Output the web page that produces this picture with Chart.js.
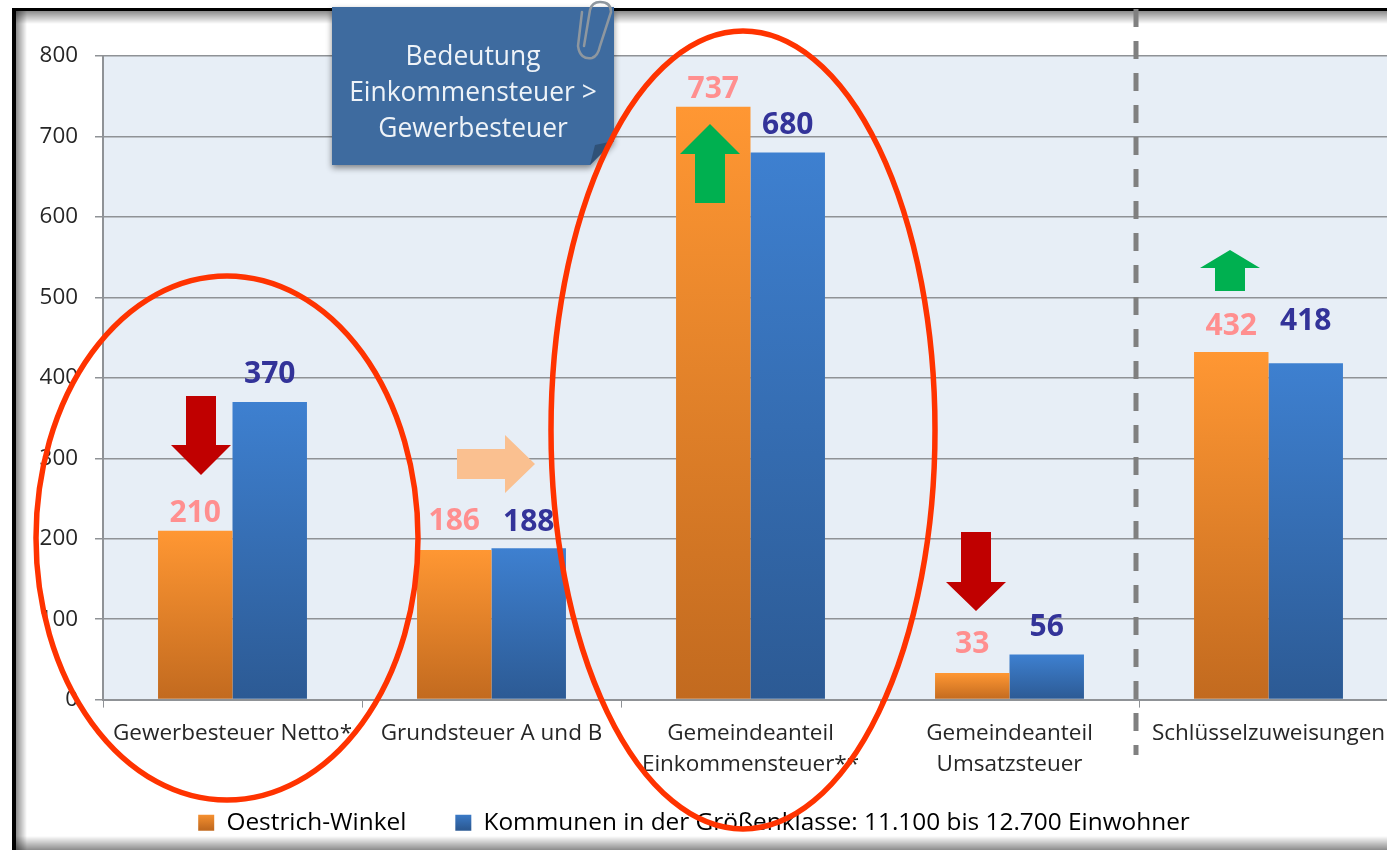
<!DOCTYPE html>
<html lang="de">
<head>
<meta charset="utf-8">
<title>Steuereinnahmen je Einwohner</title>
<script src="https://cdn.jsdelivr.net/npm/chart.js@4/dist/chart.umd.min.js"></script>
<style>
  html, body { margin: 0; padding: 0; background: #fff; overflow: hidden; }
  #wrap { width: 1387px; height: 850px; overflow: hidden; }
  canvas { display: block; }
</style>
</head>
<body>
<div id="wrap"><canvas id="tax-chart" width="1398" height="850"></canvas></div>
<script>
(function () {
  const categories = [
    "Gewerbesteuer Netto*",
    "Grundsteuer A und B",
    ["Gemeindeanteil", "Einkommensteuer**"],
    ["Gemeindeanteil", "Umsatzsteuer"],
    "Schlüsselzuweisungen",
  ];
  const oestrichWinkel = [210, 186, 737, 33, 432];
  const kommunen = [370, 188, 680, 56, 418];
  const seriesNames = [
    "Oestrich-Winkel",
    "Kommunen in der Größenklasse: 11.100 bis 12.700 Einwohner",
  ];
  const noteLines = ["Bedeutung", "Einkommensteuer >", "Gewerbesteuer"];

  const fontFamily = "'Open Sans', sans-serif";
  const textColor = "#262626";
  const gridColor = "#8f9296";
  const orange = ["#ff9733", "#c26a1f"];
  const blue = ["#3e80d0", "#2c5a94"];
  const labelColors = ["#ff8f8f", "#333399"];
  // how far each value label sits above its bar, labels were placed by hand around the arrows
  const labelLift = [
    [17, 29, 17, 29, 26],
    [27, 26, 27, 27, 42],
  ];

  function barGradient(ctx, colors) {
    if (ctx.type !== "data" || !ctx.chart.scales.y) {
      return colors[0];
    }
    const y = ctx.chart.scales.y;
    const g = ctx.chart.ctx.createLinearGradient(0, y.getPixelForValue(ctx.raw), 0, y.getPixelForValue(0));
    g.addColorStop(0, colors[0]);
    g.addColorStop(1, colors[1]);
    return g;
  }

  function legendGradient(chart, colors) {
    const g = chart.ctx.createLinearGradient(0, 812, 0, 829);
    g.addColorStop(0, colors[0]);
    g.addColorStop(1, colors[1]);
    return g;
  }

  // black picture frame with a soft shadow falling inwards
  function drawFrame(c) {
    let g = c.createLinearGradient(0, 11, 0, 24);
    g.addColorStop(0, "rgba(0,0,0,0.45)");
    g.addColorStop(1, "rgba(0,0,0,0)");
    c.fillStyle = g;
    c.fillRect(16, 11, 1382, 13);

    g = c.createLinearGradient(16, 0, 27, 0);
    g.addColorStop(0, "rgba(0,0,0,0.45)");
    g.addColorStop(1, "rgba(0,0,0,0)");
    c.fillStyle = g;
    c.fillRect(16, 11, 11, 839);

    g = c.createLinearGradient(0, 836, 0, 850);
    g.addColorStop(0, "rgba(0,0,0,0)");
    g.addColorStop(1, "rgba(0,0,0,0.45)");
    c.fillStyle = g;
    c.fillRect(16, 836, 1382, 14);

    c.fillStyle = "#000";
    c.fillRect(12, 8, 1386, 3);
    c.fillRect(12, 8, 4, 842);
  }

  function polygon(c, color, pts) {
    c.fillStyle = color;
    c.beginPath();
    pts.forEach(function (p, i) {
      if (i === 0) {
        c.moveTo(p[0], p[1]);
      } else {
        c.lineTo(p[0], p[1]);
      }
    });
    c.closePath();
    c.fill();
  }

  function arrowDown(c, color, x, top, bottom, headAt) {
    polygon(c, color, [
      [x - 15, top], [x + 15, top], [x + 15, headAt], [x + 30, headAt],
      [x, bottom], [x - 30, headAt], [x - 15, headAt],
    ]);
  }

  function arrowUp(c, color, x, top, bottom, headAt) {
    polygon(c, color, [
      [x, top], [x + 30, headAt], [x + 15, headAt], [x + 15, bottom],
      [x - 15, bottom], [x - 15, headAt], [x - 30, headAt],
    ]);
  }

  function arrowRight(c, color, left, right, y, headAt) {
    polygon(c, color, [
      [left, y - 15], [headAt, y - 15], [headAt, y - 29], [right, y],
      [headAt, y + 29], [headAt, y + 15], [left, y + 15],
    ]);
  }

  function drawNote(c) {
    c.save();
    c.shadowColor = "rgba(0,0,0,0.45)";
    c.shadowBlur = 6;
    c.shadowOffsetY = 3;
    polygon(c, "#3e6b9f", [[332, 7], [614, 7], [614, 141], [590, 165], [332, 165]]);
    c.restore();
    // folded corner
    polygon(c, "#2f5177", [[614, 141], [595, 145], [590, 165]]);

    c.fillStyle = "#eef3f8";
    c.font = "26.4px " + fontFamily;
    c.textAlign = "center";
    c.textBaseline = "middle";
    noteLines.forEach(function (line, i) {
      c.fillText(line, 473, 57 + i * 36);
    });

    // paper clip
    c.strokeStyle = "#8e979f";
    c.lineWidth = 2.5;
    c.lineCap = "round";
    c.beginPath();
    c.moveTo(582, 12);
    c.lineTo(578, 46);
    c.quadraticCurveTo(580, 60, 592, 58);
    c.quadraticCurveTo(598, 56, 600, 46);
    c.lineTo(611, 12);
    c.quadraticCurveTo(611, 2, 600, 2);
    c.quadraticCurveTo(592, 2, 590, 10);
    c.lineTo(584, 46);
    c.stroke();
  }

  function drawEllipse(c, x, y, rx, ry) {
    c.strokeStyle = "#ff3300";
    c.lineWidth = 5.5;
    c.beginPath();
    c.ellipse(x, y, rx, ry, 0, 0, Math.PI * 2);
    c.stroke();
  }

  const decorations = {
    id: "decorations",
    beforeDraw: function (chart) {
      const c = chart.ctx;
      const area = chart.chartArea;
      c.save();
      drawFrame(c);
      c.fillStyle = "#e7eef6";
      c.fillRect(area.left, area.top, area.right - area.left, area.bottom - area.top);
      c.restore();
    },
    afterDatasetsDraw: function (chart) {
      const c = chart.ctx;
      c.save();

      // value labels above the bars
      c.font = "bold 30px " + fontFamily;
      c.textAlign = "center";
      c.textBaseline = "middle";
      chart.data.datasets.forEach(function (ds, d) {
        chart.getDatasetMeta(d).data.forEach(function (bar, i) {
          c.fillStyle = labelColors[d];
          c.fillText(String(ds.data[i]), bar.x, bar.y - labelLift[d][i]);
        });
      });

      arrowDown(c, "#c00000", 201, 396, 475, 445);
      arrowRight(c, "#fac090", 457, 535, 464, 505);
      arrowUp(c, "#00b050", 710, 124, 203, 154);
      arrowDown(c, "#c00000", 976, 532, 611, 582);
      arrowUp(c, "#00b050", 1230, 250, 291, 268);

      // separator between tax income and allocations
      c.strokeStyle = "#808080";
      c.lineWidth = 5;
      c.setLineDash([18, 14]);
      c.beginPath();
      c.moveTo(1136, 9);
      c.lineTo(1136, 755);
      c.stroke();
      c.setLineDash([]);

      drawNote(c);
      c.restore();
    },
    afterDraw: function (chart) {
      const c = chart.ctx;
      c.save();
      drawEllipse(c, 227, 538, 191, 262);
      drawEllipse(c, 743, 430, 192, 399);
      c.restore();
    },
  };

  new Chart(document.getElementById("tax-chart"), {
    type: "bar",
    data: {
      labels: categories,
      datasets: [
        {
          label: seriesNames[0],
          data: oestrichWinkel,
          backgroundColor: function (ctx) { return barGradient(ctx, orange); },
        },
        {
          label: seriesNames[1],
          data: kommunen,
          backgroundColor: function (ctx) { return barGradient(ctx, blue); },
        },
      ],
    },
    options: {
      responsive: false,
      animation: false,
      // negative left edge shifts the centred legend, the y axis width makes up for it
      layout: { padding: { top: 56, bottom: 5, left: -10 } },
      datasets: { bar: { categoryPercentage: 0.575, barPercentage: 1 } },
      plugins: {
        title: { display: false },
        tooltip: { enabled: false },
        legend: {
          position: "bottom",
          labels: {
            color: textColor,
            font: { family: fontFamily, size: 24.4 },
            boxWidth: 16,
            boxHeight: 16,
            padding: 30,
            generateLabels: function (chart) {
              return seriesNames.map(function (name, i) {
                return {
                  // trailing spaces widen the gap between the two entries
                  text: i === 0 ? name + "   " : name,
                  fillStyle: legendGradient(chart, i === 0 ? orange : blue),
                  lineWidth: 0,
                  strokeStyle: "transparent",
                  datasetIndex: i,
                };
              });
            },
          },
        },
      },
      scales: {
        x: {
          afterFit: function (scale) { scale.height = 81; },
          border: { color: gridColor, width: 2 },
          grid: { drawOnChartArea: false, color: gridColor, tickLength: 8, offset: true },
          ticks: {
            color: textColor,
            font: { family: fontFamily, size: 22.5, lineHeight: 1.38 },
            maxRotation: 0,
            autoSkip: false,
            padding: 10,
          },
        },
        y: {
          min: 0,
          max: 800,
          afterFit: function (scale) { scale.width = 113; },
          border: { color: gridColor, width: 2 },
          grid: { color: gridColor, lineWidth: 1.5, tickLength: 8 },
          ticks: {
            stepSize: 100,
            color: textColor,
            font: { family: fontFamily, size: 22.4 },
            padding: 17,
          },
        },
      },
    },
    plugins: [decorations],
  });
})();
</script>
</body>
</html>
